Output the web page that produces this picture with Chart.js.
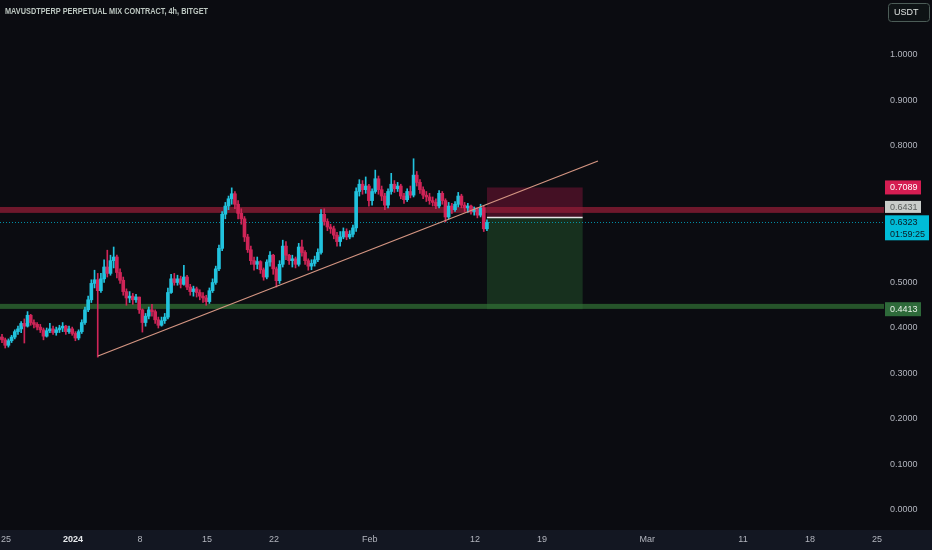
<!DOCTYPE html>
<html><head><meta charset="utf-8">
<script src="https://cdn.jsdelivr.net/npm/chart.js@4.4.1/dist/chart.umd.min.js"></script>
<style>html,body{margin:0;padding:0;background:#0b0c11;}#wrap{width:932px;height:550px;position:relative;}</style>
</head><body><div id="wrap"><canvas id="c"></canvas></div>
<script>
// ---------- DATA (days relative to 1 Jan 2024, 8h candles) ----------
const startDay = -7.75;
const stepDay = 1/3;
const firstOpen = 0.376;
const closes = [
0.380,0.374,0.362,0.372,0.380,0.392,0.398,0.410,0.404,0.428,
0.412,0.408,0.402,0.396,0.382,0.394,0.398,0.390,0.396,0.400,
0.404,0.392,0.398,0.388,0.378,0.392,0.412,0.440,0.462,0.498,
0.506,0.482,0.508,0.534,0.520,0.548,0.556,0.522,0.505,0.480,
0.466,0.470,0.462,0.468,0.440,0.412,0.426,0.440,0.436,0.418,
0.406,0.416,0.424,0.478,0.508,0.500,0.508,0.496,0.512,0.490,
0.480,0.486,0.478,0.470,0.466,0.458,0.482,0.500,0.530,0.575,
0.650,0.668,0.684,0.695,0.672,0.652,0.640,0.600,0.572,0.548,
0.540,0.546,0.528,0.512,0.545,0.560,0.530,0.504,0.540,0.580,
0.560,0.548,0.552,0.540,0.578,0.566,0.548,0.536,0.542,0.550,
0.566,0.650,0.634,0.622,0.618,0.604,0.590,0.600,0.612,0.600,
0.606,0.620,0.700,0.716,0.704,0.712,0.680,0.700,0.728,0.704,
0.690,0.670,0.700,0.716,0.706,0.712,0.690,0.682,0.700,0.692,
0.736,0.720,0.704,0.692,0.688,0.680,0.676,0.668,0.696,0.680,
0.644,0.668,0.660,0.672,0.690,0.670,0.664,0.668,0.656,0.660,
0.648,0.664,0.618,0.6323];
const highs = [
0.389,0.386,0.378,0.376,0.384,0.396,0.404,0.414,0.420,0.436,
0.430,0.418,0.412,0.408,0.400,0.400,0.410,0.404,0.402,0.406,
0.412,0.406,0.404,0.402,0.392,0.396,0.418,0.446,0.470,0.506,
0.527,0.520,0.520,0.550,0.571,0.560,0.578,0.560,0.530,0.512,
0.486,0.480,0.476,0.474,0.466,0.442,0.432,0.446,0.452,0.440,
0.424,0.424,0.432,0.488,0.518,0.520,0.516,0.514,0.538,0.516,
0.496,0.492,0.490,0.484,0.478,0.472,0.488,0.508,0.536,0.582,
0.656,0.676,0.690,0.708,0.700,0.680,0.662,0.645,0.606,0.580,
0.556,0.556,0.548,0.532,0.550,0.568,0.562,0.534,0.548,0.593,
0.590,0.562,0.560,0.556,0.586,0.593,0.570,0.552,0.550,0.558,
0.574,0.660,0.662,0.640,0.628,0.624,0.610,0.612,0.620,0.618,
0.614,0.626,0.708,0.726,0.724,0.732,0.716,0.706,0.747,0.734,
0.712,0.696,0.706,0.740,0.724,0.720,0.716,0.696,0.706,0.712,
0.772,0.744,0.726,0.710,0.700,0.696,0.688,0.684,0.702,0.700,
0.684,0.676,0.674,0.678,0.698,0.694,0.676,0.674,0.670,0.666,
0.664,0.672,0.668,0.638];
const lows = [
0.372,0.368,0.356,0.358,0.368,0.376,0.386,0.390,0.367,0.402,
0.406,0.400,0.396,0.390,0.374,0.380,0.390,0.386,0.384,0.390,
0.392,0.386,0.388,0.384,0.372,0.374,0.388,0.408,0.436,0.456,
0.488,0.336,0.478,0.500,0.512,0.516,0.532,0.510,0.498,0.472,
0.450,0.456,0.452,0.456,0.432,0.391,0.404,0.420,0.426,0.410,
0.400,0.404,0.410,0.420,0.476,0.494,0.494,0.488,0.494,0.484,
0.472,0.470,0.468,0.462,0.456,0.450,0.454,0.478,0.496,0.526,
0.570,0.640,0.660,0.672,0.662,0.640,0.628,0.590,0.566,0.540,
0.527,0.530,0.520,0.505,0.508,0.536,0.518,0.490,0.498,0.534,
0.550,0.540,0.534,0.532,0.536,0.558,0.540,0.527,0.528,0.536,
0.546,0.562,0.626,0.614,0.608,0.596,0.580,0.580,0.596,0.594,
0.596,0.600,0.612,0.690,0.694,0.696,0.668,0.670,0.696,0.694,
0.680,0.660,0.664,0.694,0.698,0.700,0.684,0.674,0.678,0.686,
0.688,0.712,0.696,0.684,0.678,0.672,0.668,0.662,0.664,0.672,
0.633,0.640,0.652,0.656,0.666,0.664,0.656,0.654,0.650,0.648,
0.642,0.644,0.612,0.614];
const xTickValues = [-7,0,7,14,21,31,42,49,60,70,77,84];
const xTickLabels = ['25','2024','8','15','22','Feb','12','19','Mar','11','18','25'];
const yTickValues = [0,0.1,0.2,0.3,0.4,0.5,0.8,0.9,1.0];
const zoneBands = [[0.653,0.666],[0.442,0.453]];
const entryPrice = 0.6431, stopPrice = 0.7089, targetPrice = 0.4413;
const positionSpan = [43.25, 53.25];
const trendDays = [2.61, 54.85];
const trendPrices = [0.3385, 0.767];
const lastPrice = 0.6323;
const countdown = '01:59:25';
const titleText = 'MAVUSDTPERP PERPETUAL MIX CONTRACT, 4h, BITGET';
const currencyText = 'USDT';

// ---------- STYLE ----------
const FONT = '"Liberation Sans", Arial, sans-serif';
const S = {
  bg:'#0b0c11', axisBg:'#131722', text:'#b2b5be',
  up:'#22c3de', down:'#cf2558',
  bandFills:['rgba(140,28,52,0.78)','rgba(48,112,52,0.72)'],
  stopFill:'rgba(125,20,55,0.5)', targetFill:'rgba(40,100,50,0.42)',
  trend:'#d49582', dotted:'rgba(0,165,190,0.85)', entry:'#e6e6e6'
};

const opens = closes.map((c,i)=> i===0 ? firstOpen : closes[i-1]);
const days = closes.map((_,i)=> startDay + i*stepDay);
const colors = closes.map((c,i)=> c >= opens[i] ? S.up : S.down);

const wickData = days.map((d,i)=>({x:d, y:[Math.min(lows[i],opens[i],closes[i]), Math.max(highs[i],opens[i],closes[i])]}));
const bodyData = days.map((d,i)=>({x:d, y:[opens[i], closes[i]]}));

const pxPerDay = 9.571;
const xMin = -73/pxPerDay, xMax = (884-73)/pxPerDay;
const yMax = 510/455, yMin = -20/455;

function labelBox(ctx, x, yc, w, h, fill, lines, color){
  ctx.fillStyle = fill;
  ctx.fillRect(x, yc - 7, w, h);
  ctx.fillStyle = color;
  ctx.font = '9px ' + FONT;
  ctx.textBaseline = 'middle';
  ctx.textAlign = 'left';
  lines.forEach((t,k)=> ctx.fillText(t, x+5, yc + k*12));
}

const overlay = {
  id:'overlay',
  beforeDraw(chart){
    const {ctx,width,height,chartArea:a} = chart;
    ctx.save();
    ctx.fillStyle = S.bg; ctx.fillRect(0,0,width,height);
    ctx.fillStyle = S.axisBg; ctx.fillRect(0,a.bottom,width,height-a.bottom);
    ctx.restore();
  },
  beforeDatasetsDraw(chart){
    const {ctx, chartArea:a, scales:{x,y}} = chart;
    ctx.save();
    ctx.beginPath(); ctx.rect(a.left,a.top,a.right-a.left,a.bottom-a.top); ctx.clip();
    const bx0 = x.getPixelForValue(positionSpan[0]), bx1 = x.getPixelForValue(positionSpan[1]);
    const yE = y.getPixelForValue(entryPrice), yS = y.getPixelForValue(stopPrice), yT = y.getPixelForValue(targetPrice);
    ctx.fillStyle = S.stopFill; ctx.fillRect(bx0, yS, bx1-bx0, yE-yS);
    ctx.fillStyle = S.targetFill; ctx.fillRect(bx0, yE, bx1-bx0, yT-yE);
    zoneBands.forEach((b,k)=>{
      const y0 = y.getPixelForValue(b[1]), y1 = y.getPixelForValue(b[0]);
      ctx.fillStyle = S.bandFills[k];
      ctx.fillRect(a.left, y0, a.right-a.left, y1-y0);
    });
    const yL = Math.round(y.getPixelForValue(lastPrice)) + 0.5;
    ctx.strokeStyle = S.dotted; ctx.lineWidth = 1; ctx.setLineDash([1,2]);
    ctx.beginPath(); ctx.moveTo(a.left, yL); ctx.lineTo(a.right, yL); ctx.stroke();
    ctx.restore();
  },
  afterDatasetsDraw(chart){
    const {ctx, chartArea:a, scales:{x,y}} = chart;
    ctx.save();
    ctx.beginPath(); ctx.rect(a.left,a.top,a.right-a.left,a.bottom-a.top); ctx.clip();
    ctx.strokeStyle = S.trend; ctx.lineWidth = 1.3;
    ctx.beginPath();
    ctx.moveTo(x.getPixelForValue(trendDays[0]), y.getPixelForValue(trendPrices[0]));
    ctx.lineTo(x.getPixelForValue(trendDays[1]), y.getPixelForValue(trendPrices[1]));
    ctx.stroke();
    const bx0 = x.getPixelForValue(positionSpan[0]), bx1 = x.getPixelForValue(positionSpan[1]);
    const yE = y.getPixelForValue(entryPrice);
    ctx.strokeStyle = S.entry; ctx.lineWidth = 1.5;
    ctx.beginPath(); ctx.moveTo(bx0, yE); ctx.lineTo(bx1, yE); ctx.stroke();
    ctx.restore();
  },
  afterDraw(chart){
    const {ctx, chartArea:a, scales:{x,y}} = chart;
    ctx.save();
    // axis tick labels via the library's scales
    ctx.textBaseline = 'middle';
    ctx.textAlign = 'left';
    ctx.font = '9px ' + FONT; ctx.fillStyle = S.text;
    yTickValues.forEach(v=> ctx.fillText(v.toFixed(4), a.right + 6, y.getPixelForValue(v)));
    ctx.textAlign = 'center';
    xTickValues.forEach((v,k)=>{
      const bold = xTickLabels[k] === '2024';
      ctx.font = (bold ? 'bold ' : '') + '9px ' + FONT;
      ctx.fillStyle = bold ? '#e6e9ec' : S.text;
      ctx.fillText(xTickLabels[k], x.getPixelForValue(v), a.bottom + 10);
    });
    const lx = a.right + 1;
    labelBox(ctx, lx, y.getPixelForValue(stopPrice), 36, 14, '#d51d52', [stopPrice.toFixed(4)], '#ffffff');
    labelBox(ctx, lx, y.getPixelForValue(entryPrice) - 9.5, 36, 12, '#c9cdca', [entryPrice.toFixed(4)], '#5c605e');
    labelBox(ctx, lx, y.getPixelForValue(lastPrice), 44, 25, '#00bcd8', [lastPrice.toFixed(4), countdown], '#0d1a22');
    labelBox(ctx, lx, y.getPixelForValue(targetPrice), 36, 14, '#2e6a3a', [targetPrice.toFixed(4)], '#e8f0e8');
    // title
    ctx.font = 'bold 9px ' + FONT;
    ctx.fillStyle = '#bcc6c0';
    ctx.textBaseline = 'alphabetic'; ctx.textAlign = 'left';
    const tw = ctx.measureText(titleText).width;
    ctx.save(); ctx.translate(5, 14.3); ctx.scale(203/tw, 1); ctx.fillText(titleText, 0, 0); ctx.restore();
    // currency box
    ctx.beginPath();
    if (ctx.roundRect) ctx.roundRect(888.5, 3.5, 41, 18, 3); else ctx.rect(888.5,3.5,41,18);
    ctx.fillStyle = '#0e1315'; ctx.fill();
    ctx.strokeStyle = '#4c5c57'; ctx.lineWidth = 1; ctx.stroke();
    ctx.fillStyle = '#dfe3e0'; ctx.font = '9px ' + FONT; ctx.textBaseline = 'middle';
    ctx.fillText(currencyText, 894, 12.5);
    ctx.restore();
  }
};

new Chart(document.getElementById('c'), {
  type:'bar',
  data:{datasets:[
    {data:wickData, backgroundColor:colors, barThickness:1, grouped:false, borderWidth:0},
    {data:bodyData, backgroundColor:colors, barThickness:3, grouped:false, borderWidth:0, minBarLength:1}
  ]},
  options:{
    responsive:true, maintainAspectRatio:false, animation:false,
    layout:{padding:0},
    plugins:{legend:{display:false}, tooltip:{enabled:false}},
    scales:{
      x:{type:'linear', min:xMin, max:xMax, offset:false,
        grid:{display:false, drawTicks:false}, border:{display:false},
        afterFit(s){ s.height = 20; s.paddingLeft = 0; s.paddingRight = 0; },
        ticks:{display:false}
      },
      y:{type:'linear', position:'right', min:yMin, max:yMax,
        grid:{display:false, drawTicks:false}, border:{display:false},
        afterFit(s){ s.width = 48; s.paddingTop = 0; s.paddingBottom = 0; },
        ticks:{display:false}
      }
    }
  },
  plugins:[overlay]
});
</script>
</body></html>
